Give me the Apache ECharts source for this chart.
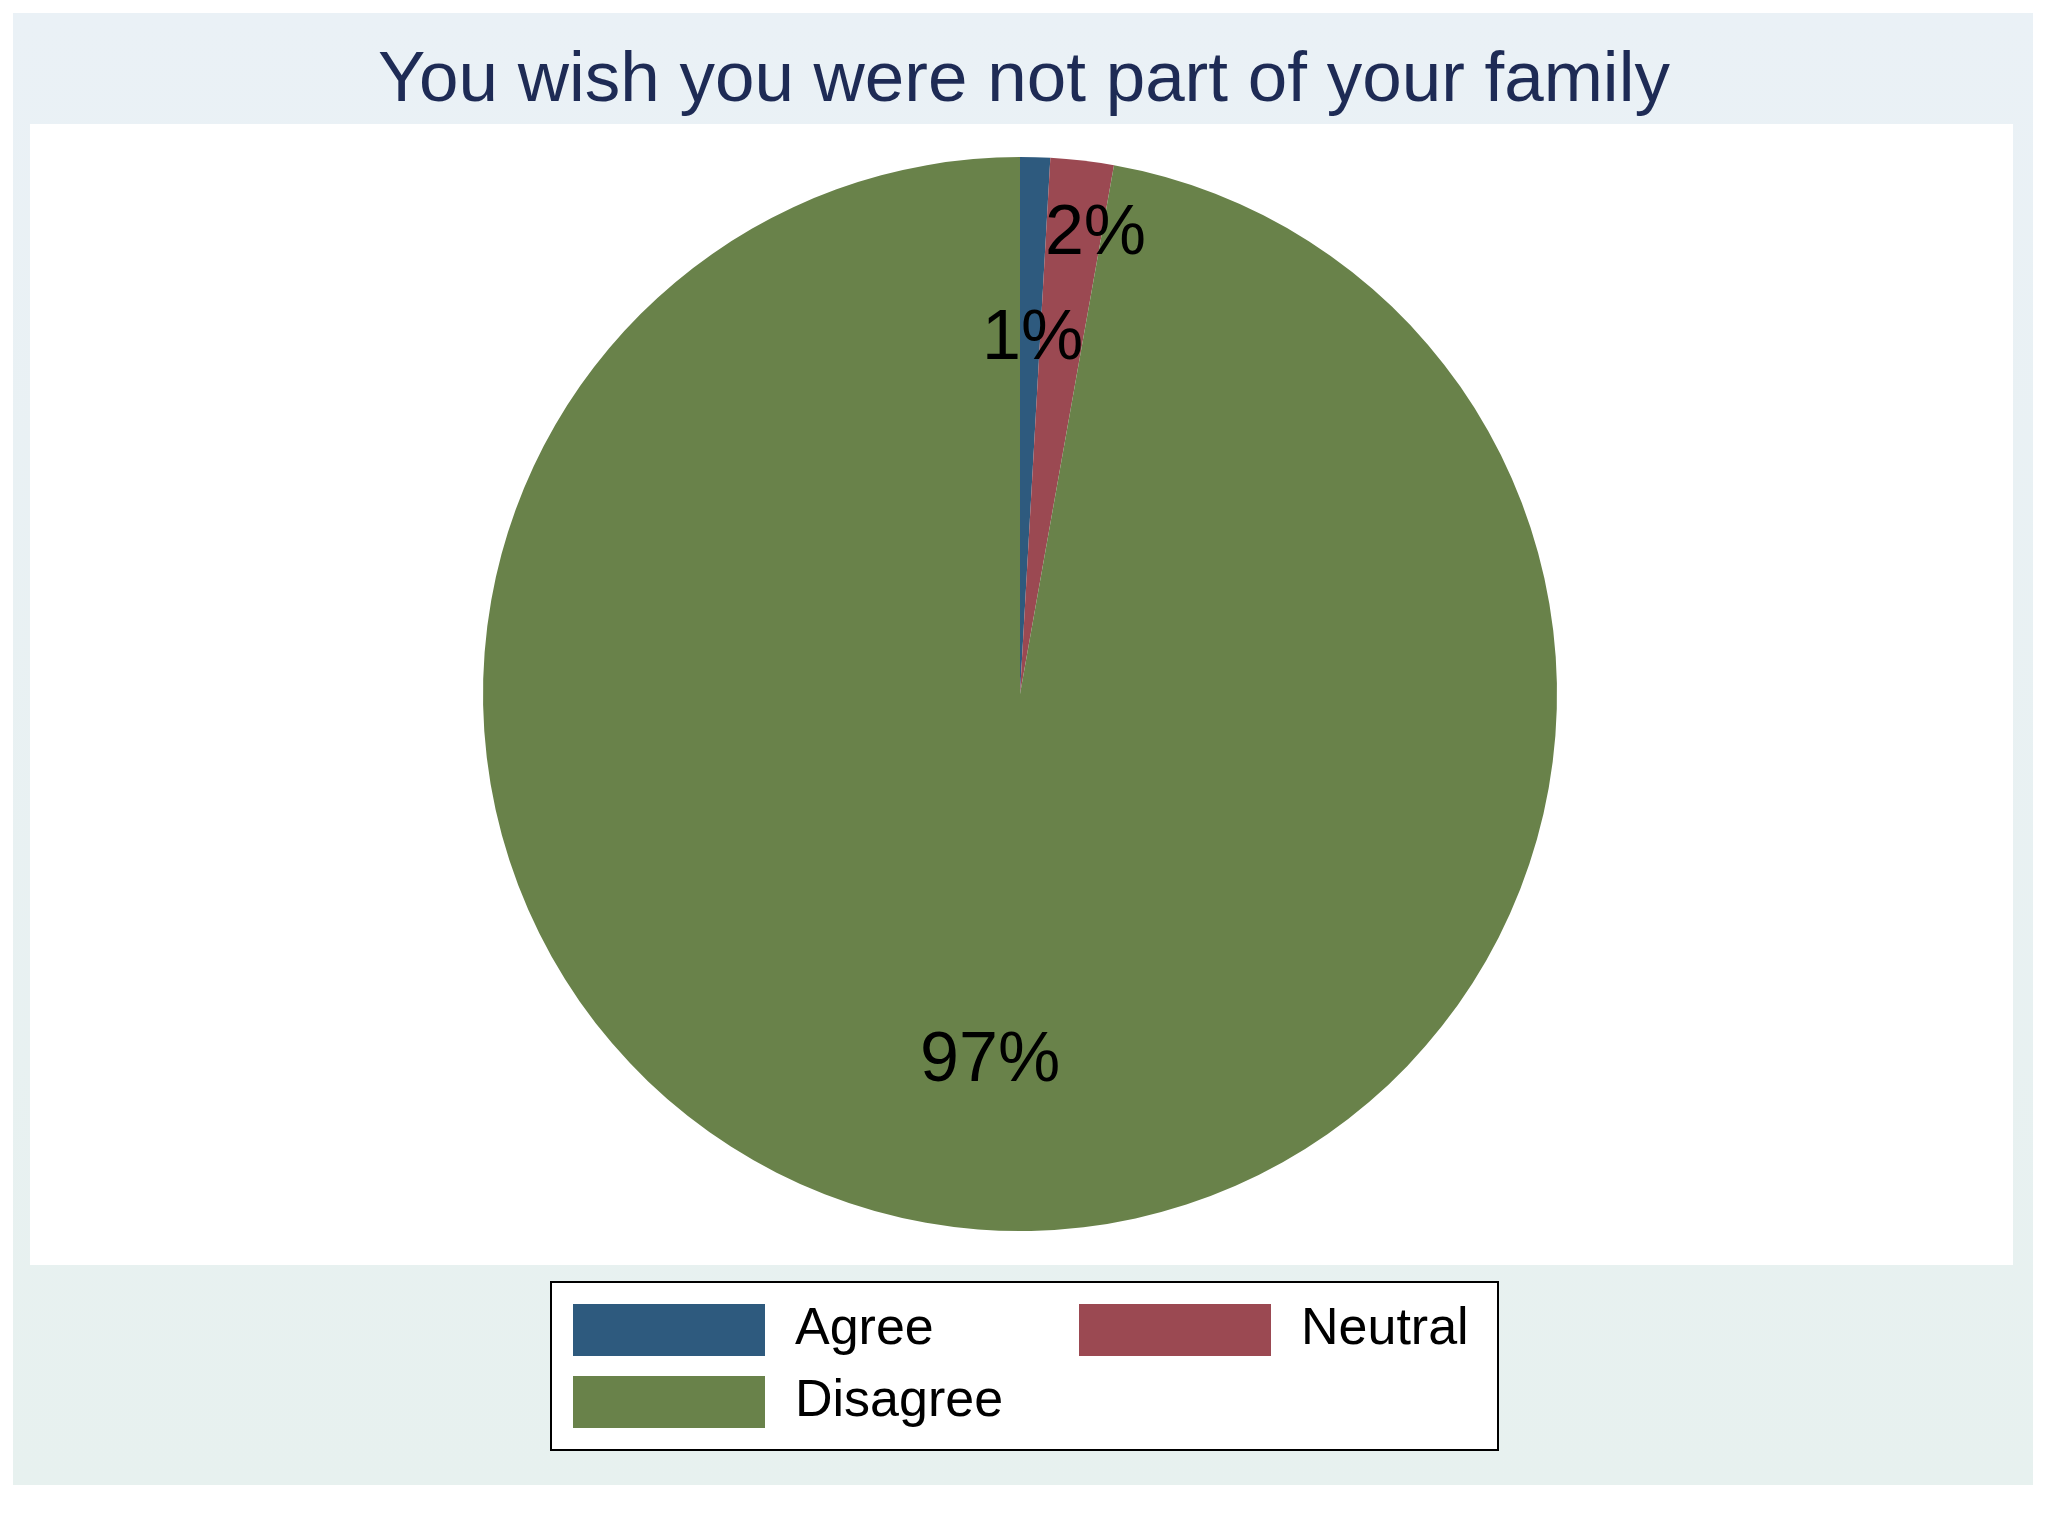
<!DOCTYPE html>
<html>
<head>
<meta charset="utf-8">
<title>You wish you were not part of your family</title>
<script src="https://cdn.jsdelivr.net/npm/echarts@6/dist/echarts.min.js"></script>
<style>
  html, body { margin: 0; padding: 0; background: #fff; }
  #main { width: 2048px; height: 1536px; }
</style>
</head>
<body>
<div id="main"></div>
<script>
// answers to the item, share of respondents in percent
var categories = ['Agree', 'Neutral', 'Disagree'];
var shares = [0.9, 1.9, 97.2];

// styling kept apart from the numbers
var sliceColors = ['#2e5a7e', '#9b4952', '#69824a'];
// label nudges (px), Stata puts the text further out than echarts does
var labelShiftX = [5, 44, -6];
var labelShiftY = [-83, -190, 97];
var legendTextWidth = { Agree: 264, Neutral: 175, Disagree: 264 };

var FONT = '"Liberation Sans", Arial, sans-serif';

var myChart = echarts.init(document.getElementById('main'));

var pieData = categories.map(function (name, i) {
  return {
    name: name,
    value: shares[i],
    itemStyle: { color: sliceColors[i] }
  };
});

var option = {
  animation: false,
  backgroundColor: '#ffffff',
  graphic: [
    {
      type: 'rect',
      z: -10,
      silent: true,
      shape: { x: 13, y: 13, width: 2020, height: 1472 },
      style: {
        fill: new echarts.graphic.LinearGradient(0, 0, 0, 1, [
          { offset: 0, color: '#eaf1f6' },
          { offset: 1, color: '#e7f1ef' }
        ])
      }
    },
    {
      type: 'rect',
      z: -9,
      silent: true,
      shape: { x: 30, y: 124, width: 1983, height: 1141 },
      style: { fill: '#ffffff' }
    }
  ],
  title: {
    text: 'You wish you were not part of your family',
    left: 'center',
    top: 41,
    textStyle: {
      fontFamily: FONT,
      fontSize: 71,
      lineHeight: 71,
      fontWeight: 'normal',
      color: '#1e2b55'
    }
  },
  legend: {
    data: categories.map(function (name) {
      return { name: name, textStyle: { width: legendTextWidth[name] } };
    }),
    icon: 'rect',
    orient: 'horizontal',
    left: 551,
    top: 1282,
    width: 910,
    itemWidth: 192,
    itemHeight: 52,
    itemGap: 20,
    padding: 22,
    backgroundColor: '#ffffff',
    borderColor: '#000000',
    borderWidth: 2,
    selectedMode: false,
    textStyle: {
      fontFamily: FONT,
      fontSize: 52,
      lineHeight: 52,
      color: '#000000',
      padding: [0, 0, 0, 25]
    }
  },
  series: [{
    name: 'You wish you were not part of your family',
    type: 'pie',
    center: [1020, 694],
    radius: 537,
    startAngle: 90,
    clockwise: true,
    percentPrecision: 0,
    avoidLabelOverlap: false,
    emphasis: { disabled: true },
    itemStyle: { borderWidth: 0 },
    label: {
      show: true,
      position: 'inside',
      formatter: '{d}%',
      fontFamily: FONT,
      fontSize: 70,
      color: '#000000'
    },
    labelLine: { show: false },
    labelLayout: function (p) {
      return {
        dx: labelShiftX[p.dataIndex],
        dy: labelShiftY[p.dataIndex],
        hideOverlap: false
      };
    },
    data: pieData
  }]
};

myChart.setOption(option);
</script>
</body>
</html>
